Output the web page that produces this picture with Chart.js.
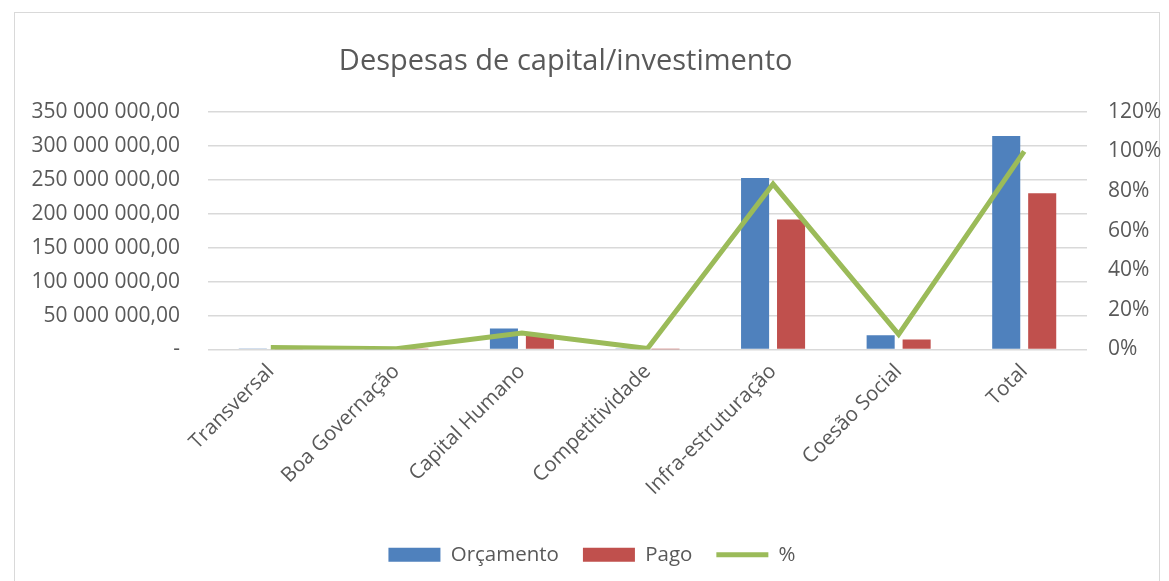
<!DOCTYPE html>
<html>
<head>
<meta charset="utf-8">
<script src="https://cdn.jsdelivr.net/npm/chart.js@4.4.1/dist/chart.umd.min.js"></script>
<style>
  html, body { margin: 0; padding: 0; background: #fff; overflow: hidden; }
  #frame { position: absolute; left: 14px; top: 12px; width: 1146px; height: 600px; border: 1px solid #d9d9d9; box-sizing: border-box; }
  #wrap { position: absolute; left: 0; top: 0; width: 1169px; height: 581px; }
</style>
</head>
<body>
<div id="frame"></div>
<div id="wrap"><canvas id="c" width="1169" height="581"></canvas></div>
<script>
const categories = ['Transversal', 'Boa Governação', 'Capital Humano', 'Competitividade', 'Infra-estruturação', 'Coesão Social', 'Total'];
const orcamento = [1500000, 300000, 31000000, 600000, 252700000, 20800000, 314500000];
const pago = [200000, 100000, 21000000, 100000, 191400000, 14800000, 230000000];
const percentValues = [1.0, 0.4, 8.3, 0.5, 83.5, 7.6, 100];
const leftTicks = [0, 50000000, 100000000, 150000000, 200000000, 250000000, 300000000, 350000000];
const rightTicks = [0, 20, 40, 60, 80, 100, 120];
const chartTitle = 'Despesas de capital/investimento';

const FONT = "'Open Sans', 'Liberation Sans', sans-serif";
const TXT = '#595959';

function fmtMoney(v) {
  if (v === 0) return '-';
  const s = Math.round(v).toString().replace(/\B(?=(\d{3})+(?!\d))/g, ' ');
  return s + ',00';
}

Chart.defaults.font.family = FONT;
Chart.defaults.color = TXT;

new Chart(document.getElementById('c'), {
  data: {
    labels: categories,
    datasets: [
      { type: 'line', label: '%', data: percentValues, yAxisID: 'y1', borderColor: '#9bbb59', backgroundColor: '#9bbb59', borderWidth: 5, pointRadius: 0, tension: 0, order: 0 },
      { type: 'bar', label: 'Orçamento', data: orcamento, yAxisID: 'y', backgroundColor: '#4f81bd', borderWidth: 0, categoryPercentage: 0.573, barPercentage: 0.78, order: 1 },
      { type: 'bar', label: 'Pago', data: pago, yAxisID: 'y', backgroundColor: '#c0504d', borderWidth: 0, categoryPercentage: 0.573, barPercentage: 0.78, order: 1 }
    ]
  },
  options: {
    responsive: false,
    animation: false,
    layout: { padding: { left: 15, right: 0, top: 12, bottom: 6 } },
    plugins: {
      title: { display: true, text: chartTitle + '\u00A0\u00A0\u00A0\u00A0\u00A0\u00A0\u00A0', color: TXT, font: { size: 29, weight: 'normal', family: FONT }, padding: { top: 32, bottom: 33 } },
      legend: {
        position: 'bottom',
        labels: {
          color: TXT,
          font: { size: 20.5, family: FONT },
          usePointStyle: true,
          pointStyleWidth: 52,
          boxHeight: 14,
          padding: 24,
          generateLabels(chart) {
            const order = [1, 2, 0];
            return order.map(i => {
              const ds = chart.data.datasets[i];
              const isLine = ds.type === 'line';
              return {
                text: ds.label,
                fillStyle: ds.backgroundColor,
                strokeStyle: isLine ? ds.borderColor : ds.backgroundColor,
                lineWidth: isLine ? 5 : 0,
                pointStyle: isLine ? 'line' : 'rect',
                fontColor: TXT,
                hidden: false,
                datasetIndex: i
              };
            });
          }
        }
      },
      tooltip: { enabled: false }
    },
    scales: {
      x: {
        grid: { display: false },
        border: { display: false },
        ticks: { color: TXT, font: { size: 20.5, family: FONT }, minRotation: 45, maxRotation: 45, padding: 2 },
        afterFit(s) { s.height = 171; }
      },
      y: {
        position: 'left',
        min: 0, max: 350000000,
        afterBuildTicks(s) { s.ticks = leftTicks.map(v => ({ value: v })); },
        grid: { color: '#d9d9d9', lineWidth: 1.5, drawTicks: false },
        border: { display: false },
        ticks: { color: TXT, font: { size: 21, family: FONT }, padding: 28, callback: v => fmtMoney(v) },
        afterFit(s) { s.width = 193; }
      },
      y1: {
        position: 'right',
        min: 0, max: 120,
        afterBuildTicks(s) { s.ticks = rightTicks.map(v => ({ value: v })); },
        grid: { display: false, drawTicks: false },
        border: { display: false },
        ticks: { color: TXT, font: { size: 21, family: FONT }, padding: 21, callback: v => v + '%' },
        afterFit(s) { s.width = 82; }
      }
    }
  }
});
</script>
</body>
</html>
